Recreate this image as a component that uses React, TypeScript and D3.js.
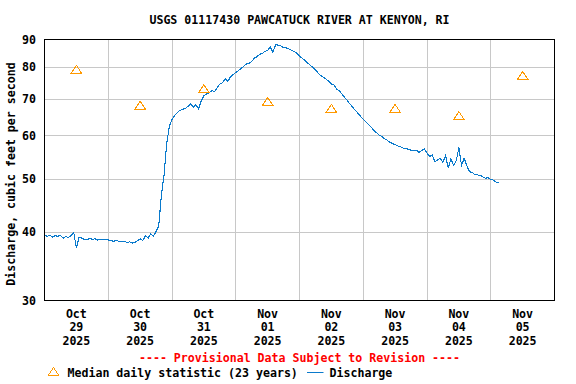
import React from 'react';
import * as d3 from 'd3';

// hourly discharge (cfs), starting 2025-10-29 00:00
const dischargeOct29 = [39.6, 39.3, 39.5, 39.2, 39.4, 39.3, 39.5, 39.0, 39.3, 39.1, 39.4, 40.0, 37.4, 39.2, 39.0, 38.8, 38.7, 39.0, 38.8, 38.9, 38.7, 38.8, 38.7, 38.8];
const dischargeOct30 = [38.7, 38.6, 38.5, 38.6, 38.5, 38.4, 38.5, 38.3, 38.4, 38.2, 38.3, 38.6, 38.9, 38.6, 39.4, 39.0, 39.7, 39.3, 40.1, 41.0, 46.8, 50.8, 58.0, 62.5];
const dischargeOct31 = [64.3, 65.4, 66.2, 66.8, 67.1, 67.3, 67.9, 68.6, 67.7, 68.4, 67.2, 69.5, 71.0, 71.6, 71.9, 72.6, 72.2, 73.4, 74.6, 75.0, 76.3, 75.4, 76.9, 77.6];
const dischargeNov01 = [78.3, 78.9, 79.7, 80.4, 81.2, 81.4, 82.0, 83.2, 83.7, 84.6, 84.9, 85.6, 86.0, 87.2, 85.3, 88.0, 87.9, 87.6, 87.0, 86.9, 86.5, 86.0, 85.6, 85.0];
const dischargeNov02 = [83.9, 83.2, 82.4, 81.6, 80.8, 80.0, 79.2, 78.2, 77.3, 76.8, 76.2, 75.5, 74.6, 74.3, 73.0, 72.6, 71.5, 70.5, 69.6, 68.6, 67.7, 66.8, 66.0, 65.1];
const dischargeNov03 = [64.3, 63.6, 62.9, 62.2, 61.4, 60.8, 60.2, 59.8, 59.3, 58.9, 58.4, 58.1, 57.8, 57.5, 57.3, 57.0, 56.9, 56.7, 56.5, 56.4, 56.5, 56.0, 56.4, 56.8];
const dischargeNov04 = [55.8, 55.0, 55.3, 53.8, 54.2, 54.6, 53.7, 55.2, 52.4, 54.5, 53.0, 54.0, 57.1, 53.0, 54.6, 52.9, 51.6, 51.4, 51.0, 50.9, 50.8, 50.5, 50.2, 50.3];
const dischargeNov05 = [49.9, 49.8, 49.4, 49.2];

// median daily statistic (23 years), one per day at noon
const medianValues = [79.2, 68.1, 73.0, 69.2, 67.2, 67.2, 65.2, 77.2];

const dayStarts = ['2025-10-29', '2025-10-30', '2025-10-31', '2025-11-01', '2025-11-02', '2025-11-03', '2025-11-04', '2025-11-05'];
const yTicks = [30, 40, 50, 60, 70, 80, 90];
const yGrid = [40, 50, 60, 70, 80];

const WIDTH = 576;
const HEIGHT = 384;
const LEFT = 44.5;
const RIGHT = 554.5;
const TOP = 39.5;
const BOTTOM = 300.5;

const FONT = '"DejaVu Sans Mono", monospace';
const BLUE = '#0a7acc';
const ORANGE = '#ff9900';

const start = new Date(Date.UTC(2025, 9, 29));
const end = new Date(Date.UTC(2025, 10, 6));
const HOUR = 3600 * 1000;

const discharge = [
    ...dischargeOct29, ...dischargeOct30, ...dischargeOct31, ...dischargeNov01,
    ...dischargeNov02, ...dischargeNov03, ...dischargeNov04, ...dischargeNov05
].map((v, i) => ({ date: new Date(start.getTime() + i * HOUR), value: v }));

const days = dayStarts.map(s => new Date(s + 'T00:00:00Z'));
const noon = (d: Date) => new Date(d.getTime() + 12 * HOUR);

const x = d3.scaleUtc().domain([start, end]).range([LEFT, RIGHT]);
const y = d3.scaleLog().domain([30, 90]).range([BOTTOM, TOP]);

const fmtMonth = d3.utcFormat('%b');
const fmtDay = d3.utcFormat('%d');
const fmtYear = d3.utcFormat('%Y');

const line = d3.line<{ date: Date; value: number }>()
    .x(d => x(d.date))
    .y(d => y(d.value));

const triangle = 'M0,-4.5L5.3,3.5L-5.3,3.5Z';

const crisp = (v: number) => Math.round(v - 0.5) + 0.5;

export default function App() {
    const gridDays = days.slice(1);

    return (
        <svg width={WIDTH} height={HEIGHT}
            style={{ position: 'absolute', left: 0, top: 0, display: 'block', background: '#fff' }}
            fontFamily={FONT} fontWeight="bold" fontSize={11.6}>
            <rect x={0} y={0} width={WIDTH} height={HEIGHT} fill="#fff" />

            <text x={(LEFT + RIGHT) / 2} y={24} textAnchor="middle" fill="#000">
                USGS 01117430 PAWCATUCK RIVER AT KENYON, RI
            </text>

            {/* grid */}
            {gridDays.map((d, i) => (
                <line key={'vx' + i} x1={crisp(x(d))} x2={crisp(x(d))} y1={TOP} y2={BOTTOM}
                    stroke="#c8c8c8" strokeWidth={1} />
            ))}
            {yGrid.map(v => (
                <line key={'gy' + v} x1={LEFT} x2={RIGHT} y1={crisp(y(v))} y2={crisp(y(v))}
                    stroke="#c8c8c8" strokeWidth={1} />
            ))}

            {/* discharge */}
            <path d={line(discharge) || ''} fill="none" stroke={BLUE} strokeWidth={1.1}
                shapeRendering="crispEdges" />

            {/* medians */}
            {medianValues.map((v, i) => (
                <path key={'m' + i} d={triangle}
                    transform={`translate(${x(noon(days[i]))},${y(v)})`}
                    fill="none" stroke={ORANGE} strokeWidth={1} shapeRendering="crispEdges" />
            ))}

            <rect x={LEFT} y={TOP} width={RIGHT - LEFT} height={BOTTOM - TOP}
                fill="none" stroke="#000" strokeWidth={1} />

            {/* y axis */}
            {yTicks.map(v => (
                <text key={'yt' + v} x={36} y={y(v) + 4} textAnchor="end" fill="#000">{v}</text>
            ))}
            <text transform={`translate(15,${174}) rotate(-90)`} textAnchor="middle" fill="#000">
                Discharge, cubic feet per second
            </text>

            {/* x axis */}
            {days.map((d, i) => {
                const cx = x(noon(d));
                return (
                    <g key={'xt' + i} textAnchor="middle" fill="#000">
                        <text x={cx} y={BOTTOM + 17}>{fmtMonth(d)}</text>
                        <text x={cx} y={BOTTOM + 30.5}>{fmtDay(d)}</text>
                        <text x={cx} y={BOTTOM + 44}>{fmtYear(d)}</text>
                    </g>
                );
            })}

            <text x={(LEFT + RIGHT) / 2} y={362} textAnchor="middle" fill="#ff0000">
                ---- Provisional Data Subject to Revision ----
            </text>

            {/* legend */}
            <path d={triangle} transform="translate(53.5,372)" fill="none" stroke={ORANGE} strokeWidth={1}
                shapeRendering="crispEdges" />
            <text x={67.5} y={376.5} fill="#000">Median daily statistic (23 years)</text>
            <line x1={307} x2={323.5} y1={372.5} y2={372.5} stroke={BLUE} strokeWidth={1} />
            <text x={329.5} y={376.5} fill="#000">Discharge</text>
        </svg>
    );
}
